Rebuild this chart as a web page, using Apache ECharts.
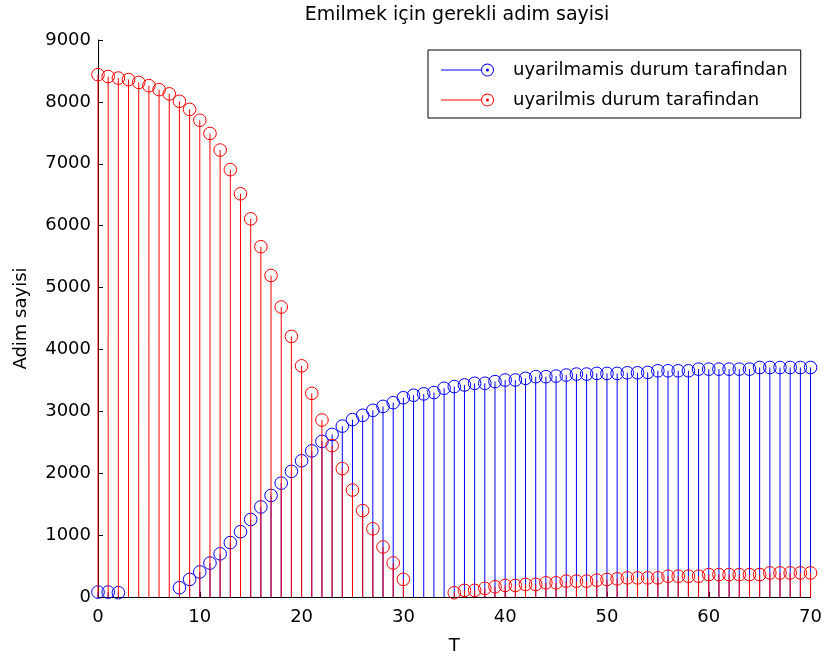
<!DOCTYPE html>
<html>
<head>
<meta charset="utf-8">
<script src="https://cdn.jsdelivr.net/npm/echarts@6/dist/echarts.min.js"></script>
<style>html,body{margin:0;padding:0;background:#fff;}#c{width:825px;height:660px;}</style>
</head>
<body>
<div id="c"></div>
<script>
const T = [];
for (let i = 0; i <= 70; i++) T.push(i);

const seriesNames = ['uyarilmamis durum tarafindan', 'uyarilmis durum tarafindan'];

const uyarilmamis = [
  80, 80, 70, null, null, null, null, null, 150, 285,
  405, 548, 698, 879, 1055, 1252, 1455, 1641, 1840, 2030,
  2201, 2361, 2515, 2627, 2761, 2866, 2936, 3016, 3080, 3140,
  3220, 3260, 3282, 3304, 3373, 3400, 3426, 3453, 3453, 3480,
  3506, 3506, 3533, 3560, 3560, 3570, 3586, 3602, 3602, 3613,
  3613, 3613, 3623, 3623, 3629, 3655, 3655, 3655, 3655, 3682,
  3682, 3682, 3682, 3682, 3682, 3708, 3708, 3708, 3708, 3708,
  3708
];

const uyarilmis = [
  8440, 8410, 8385, 8360, 8315, 8262, 8198, 8130, 8010, 7878,
  7703, 7490, 7222, 6905, 6515, 6110, 5660, 5195, 4685, 4210,
  3735, 3290, 2860, 2445, 2075, 1728, 1396, 1102, 808, 550,
  285, null, null, null, null, 69, 107, 107, 139, 165,
  187, 187, 203, 203, 229, 229, 256, 256, 256, 272,
  283, 293, 309, 309, 309, 309, 336, 336, 336, 336,
  362, 362, 362, 362, 362, 362, 389, 389, 389, 389,
  389
];

const xTicks = { min: 0, max: 70, interval: 10 };
const yTicks = { min: 0, max: 9000, interval: 1000 };

const colors = ['#0000ff', '#ff0000'];

function pairs(vals) {
  const out = [];
  for (let i = 0; i < T.length; i++) {
    if (vals[i] !== null && vals[i] !== undefined) out.push([T[i], vals[i]]);
  }
  return out;
}

function stemRenderer(color) {
  return function (params, api) {
    const x = api.value(0), y = api.value(1);
    const p0 = api.coord([x, 0]);
    const p1 = api.coord([x, y]);
    return {
      type: 'group',
      children: [
        { type: 'line', shape: { x1: p0[0], y1: p0[1], x2: p1[0], y2: p1[1] },
          style: { stroke: color, lineWidth: 1 } },
        { type: 'circle', shape: { cx: p1[0], cy: p1[1], r: 6.3 },
          style: { fill: null, stroke: color, lineWidth: 1 } }
      ]
    };
  };
}

const legendIcon = 'path://M0 6 L40 6 L40 7 L0 7 Z M53 6.5 A6.5 6.5 0 1 1 40 6.5 A6.5 6.5 0 1 1 53 6.5 Z M52 6.5 A5.5 5.5 0 1 0 41 6.5 A5.5 5.5 0 1 0 52 6.5 Z M48 6.5 A1.5 1.5 0 1 1 45 6.5 A1.5 1.5 0 1 1 48 6.5 Z';

const FONT = '"DejaVu Sans", "Liberation Sans", Arial, sans-serif';

const chart = echarts.init(document.getElementById('c'), null, { renderer: 'canvas' });
chart.setOption({
  animation: false,
  backgroundColor: '#fff',
  textStyle: { fontFamily: FONT, color: '#000' },
  title: {
    text: 'Emilmek için gerekli adim sayisi',
    left: 452, textAlign: 'center', top: 1,
    textStyle: { fontFamily: FONT, fontSize: 19, fontWeight: 'normal', color: '#000' }
  },
  legend: {
    orient: 'vertical',
    left: 428, top: 50,
    padding: [10, 13, 8, 13],
    itemGap: 10,
    itemWidth: 53, itemHeight: 13,
    backgroundColor: '#fff',
    borderColor: '#000', borderWidth: 1, borderRadius: 0,
    data: seriesNames.map(n => ({ name: n, icon: legendIcon })),
    textStyle: { fontFamily: FONT, fontSize: 18, color: '#000', lineHeight: 20, padding: [0, 0, 0, 14] }
  },
  grid: { left: 98, right: 12, top: 40, bottom: 59, containLabel: false },
  xAxis: {
    type: 'value', min: xTicks.min, max: xTicks.max, interval: xTicks.interval,
    name: 'T', nameLocation: 'middle', nameGap: 40,
    nameTextStyle: { fontFamily: FONT, fontSize: 18, color: '#000' },
    axisLine: { show: true, lineStyle: { color: '#000', width: 1 } },
    axisTick: { show: true, inside: true, length: 5, lineStyle: { color: '#000' } },
    axisLabel: { fontFamily: FONT, fontSize: 18, color: '#000', margin: 11 },
    splitLine: { show: false }
  },
  yAxis: {
    type: 'value', min: yTicks.min, max: yTicks.max, interval: yTicks.interval,
    name: 'Adim sayisi', nameLocation: 'middle', nameGap: 68, nameRotate: 90,
    nameTextStyle: { fontFamily: FONT, fontSize: 18, color: '#000' },
    axisLine: { show: true, lineStyle: { color: '#000', width: 1 } },
    axisTick: { show: true, inside: true, length: 5, lineStyle: { color: '#000' } },
    axisLabel: { fontFamily: FONT, fontSize: 18, color: '#000', margin: 7,
      formatter: v => String(v) },
    splitLine: { show: false }
  },
  series: [
    { name: seriesNames[0], type: 'custom', color: colors[0], itemStyle: { color: colors[0] },
      renderItem: stemRenderer(colors[0]), data: pairs(uyarilmamis), clip: false },
    { name: seriesNames[1], type: 'custom', color: colors[1], itemStyle: { color: colors[1] },
      renderItem: stemRenderer(colors[1]), data: pairs(uyarilmis), clip: false }
  ]
});
</script>
</body>
</html>
